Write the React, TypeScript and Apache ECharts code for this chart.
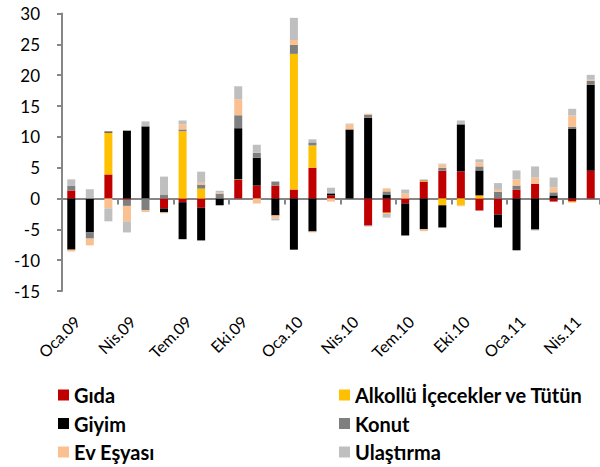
import React, { useEffect, useRef } from "react";
import * as echarts from "echarts";

const categories = [
  "Oca.09", "Şub.09", "Mar.09", "Nis.09", "May.09", "Haz.09", "Tem.09", "Ağu.09", "Eyl.09", "Eki.09", "Kas.09", "Ara.09",
  "Oca.10", "Şub.10", "Mar.10", "Nis.10", "May.10", "Haz.10", "Tem.10", "Ağu.10", "Eyl.10", "Eki.10", "Kas.10", "Ara.10",
  "Oca.11", "Şub.11", "Mar.11", "Nis.11", "May.11",
];

const gida = [1.3, 0, 3.9, -0.2, 0, -1.6, -0.6, -1.5, 0, 3.0, 2.1, 2.1, 1.45, 5.0, 0.5, 0, -4.4, -2.3, -0.8, 2.75, 4.5, 4.4, -1.95, -2.6, 1.45, 2.4, -0.5, -0.5, 4.5];
const alkollu = [0, 0, 6.8, 0, 0, 0, 10.9, 1.6, 0, 0.1, 0, 0, 22.0, 3.6, 0, 0, 0, -0.15, 0, 0.15, -1.1, -1.1, 0.5, 0, 0, 0, 0, -0.15, 0];
const giyim = [-8.3, -5.5, 0.15, 11.0, 11.7, -0.65, -6.0, -5.3, -1.1, 8.3, 4.5, -2.75, -8.3, -5.35, 0.3, 11.2, 13.1, 0.65, -5.2, -5.0, -3.6, 7.6, 4.05, -2.1, -8.4, -5.0, 0.5, 11.35, 13.95];
const konut = [0.8, -1.0, 0, -1.0, -1.9, 0.65, 0.3, 0.65, 0.8, 2.1, 0.8, 0.65, 1.45, 0.5, 0.15, 0, 0.5, 0.5, 0, 0.15, 0.5, 0.15, 0.65, 1.1, 0.65, -0.15, 0.5, 0.3, 0.65];
const evEsyasi = [-0.3, -1.1, -1.6, -2.5, -0.3, -0.15, 0.8, 0.3, 0.15, 2.6, -0.8, -0.5, 0.8, -0.15, -0.5, 0.8, 0.15, 0.5, 0.8, -0.3, 0.5, -0.15, 0.65, 0.3, 1.0, 1.0, 0.8, 1.8, 0.15];
const ulastirma = [1.0, 1.5, -2.1, -1.8, 0.8, 2.9, 0.65, 1.8, 0.3, 2.1, 1.3, -0.3, 3.6, 0.5, 0.8, 0.15, -0.15, -0.65, 0.65, 0, 0.15, 0.5, 0.5, 1.1, 1.45, 1.8, 1.6, 1.1, 0.8];

const seriesNames = ["Gıda", "Alkollü İçecekler ve Tütün", "Giyim", "Konut", "Ev Eşyası", "Ulaştırma"];
const seriesData = [gida, alkollu, giyim, konut, evEsyasi, ulastirma];
const seriesColors = ["#C00000", "#FFC000", "#000000", "#7F7F7F", "#FAC090", "#BFBFBF"];

const FONT = "Lato";
const AXIS_COLOR = "#868686";

export default function App() {
  const ref = useRef<HTMLDivElement>(null);
  useEffect(() => {
    if (!ref.current) return;
    const chart = echarts.init(ref.current, null, { renderer: "svg" });
    const legendCommon = {
      orient: "vertical" as const,
      top: 385,
      padding: 0,
      itemWidth: 11,
      itemHeight: 11,
      itemGap: 8.5,
      icon: "rect",
      selectedMode: false,
      textStyle: { fontSize: 20, fontWeight: "bold" as const, fontFamily: FONT, color: "#000", lineHeight: 20 },
    };
    chart.setOption({
      animation: false,
      backgroundColor: "#fff",
      grid: { left: 62, right: 0, top: 13.5, bottom: 176 },
      legend: [
        { ...legendCommon, left: 58, data: [seriesNames[0], seriesNames[2], seriesNames[4]] },
        { ...legendCommon, left: 339, data: [seriesNames[1], seriesNames[3], seriesNames[5]] },
      ],
      xAxis: [
        {
          type: "category",
          data: categories,
          position: "bottom",
          axisLine: { show: false, onZero: false },
          axisTick: { show: false },
          axisLabel: {
            interval: 2,
            rotate: 45,
            fontSize: 16,
            fontFamily: FONT,
            color: "#000",
            margin: 22,
            verticalAlign: "top",
          },
          splitLine: { show: false },
        },
        {
          type: "category",
          data: categories,
          position: "bottom",
          axisLine: { show: true, onZero: true, lineStyle: { color: AXIS_COLOR, width: 2 } },
          axisTick: { show: true, interval: 2, length: 6, lineStyle: { color: AXIS_COLOR, width: 2 } },
          axisLabel: { show: false },
          splitLine: { show: false },
        },
      ],
      yAxis: {
        type: "value",
        min: -15,
        max: 30,
        interval: 5,
        axisLine: { show: true, lineStyle: { color: AXIS_COLOR, width: 2 } },
        axisTick: { show: true, length: 5, lineStyle: { color: AXIS_COLOR, width: 2 } },
        splitLine: { show: false },
        axisLabel: { fontSize: 17, fontFamily: FONT, color: "#000", margin: 22 },
      },
      series: seriesNames.map((name, i) => ({
        name,
        type: "bar",
        stack: "total",
        barWidth: 8,
        xAxisIndex: 0,
        data: seriesData[i],
        itemStyle: { color: seriesColors[i] },
      })),
    });
    return () => chart.dispose();
  }, []);
  return <div ref={ref} style={{ position: "absolute", left: 0, top: 0, width: 600, height: 467 }} />;
}
